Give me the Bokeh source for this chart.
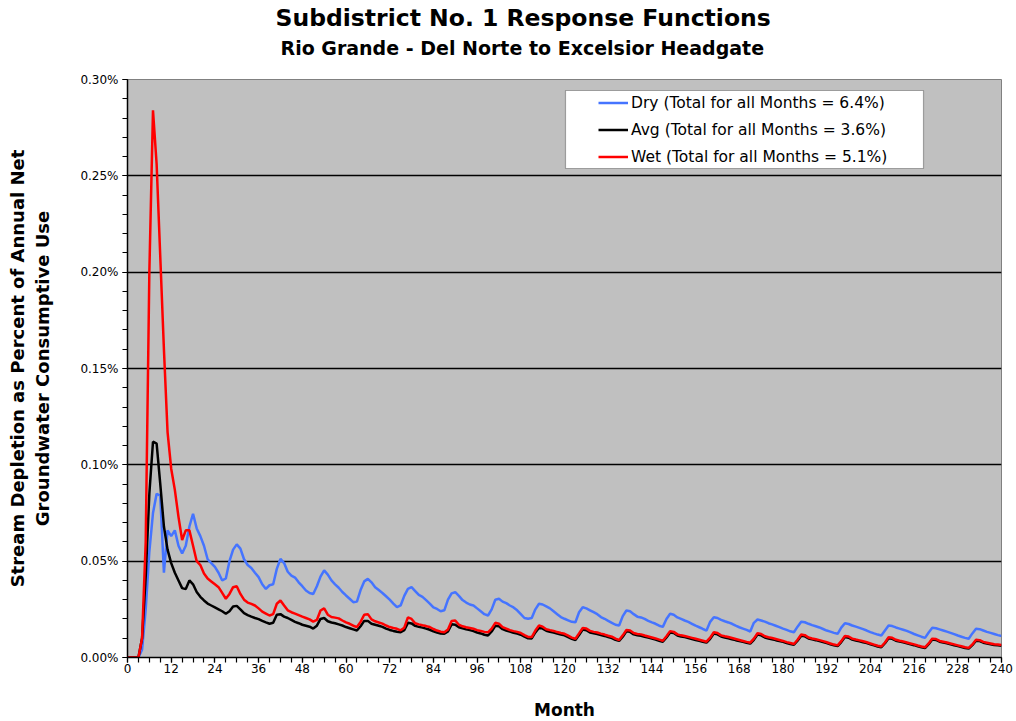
from bokeh.plotting import figure
from bokeh.models import (FixedTicker, PrintfTickFormatter, Legend, LegendItem,
                          Title, BoxAnnotation, Range1d)
from bokeh.embed import file_html
from bokeh.resources import INLINE

months = list(range(241))

dry = [
    0, 0, 0, 0, 0.004, 0.025, 0.055, 0.075, 0.085, 0.084, 0.044, 0.066,
    0.063, 0.066, 0.058, 0.054, 0.058, 0.068, 0.0746, 0.067, 0.063, 0.058, 0.051, 0.049,
    0.047, 0.044, 0.040, 0.041, 0.050, 0.056, 0.0587, 0.0565, 0.051, 0.048, 0.0465, 0.044,
    0.0417, 0.038, 0.0356, 0.0375, 0.038, 0.046, 0.0512, 0.049, 0.0445, 0.0425, 0.0415, 0.039,
    0.037, 0.0348, 0.0335, 0.033, 0.037, 0.042, 0.0452, 0.043, 0.040, 0.038, 0.0362, 0.034,
    0.0322, 0.0305, 0.0287, 0.029, 0.035, 0.0395, 0.0408, 0.039, 0.0365, 0.035, 0.0335, 0.0318,
    0.030, 0.028, 0.0261, 0.027, 0.032, 0.0356, 0.0365, 0.0345, 0.0325, 0.0315, 0.0298, 0.028,
    0.026, 0.0252, 0.024, 0.0245, 0.030, 0.0333, 0.0339, 0.032, 0.0298, 0.0285, 0.0275, 0.027,
    0.0255, 0.024, 0.0225, 0.0218, 0.025, 0.0300, 0.0305, 0.029, 0.0282, 0.027, 0.026, 0.0245,
    0.0225, 0.0205, 0.0201, 0.0205, 0.025, 0.0279, 0.0275, 0.0265, 0.0255, 0.024, 0.0225, 0.021,
    0.0201, 0.0193, 0.0185, 0.0183, 0.0235, 0.0261, 0.0255, 0.0245, 0.0235, 0.0225, 0.021, 0.0201,
    0.019, 0.018, 0.017, 0.0166, 0.0215, 0.0244, 0.0240, 0.0225, 0.0212, 0.0208, 0.0200, 0.019,
    0.0182, 0.0175, 0.0165, 0.0159, 0.020, 0.0227, 0.0222, 0.0208, 0.0200, 0.0192, 0.0185, 0.0175,
    0.0165, 0.0157, 0.0148, 0.0140, 0.0185, 0.0209, 0.0205, 0.0195, 0.0188, 0.0182, 0.0175, 0.0165,
    0.0157, 0.0150, 0.0143, 0.0135, 0.0180, 0.0197, 0.0192, 0.0186, 0.0178, 0.0172, 0.0165, 0.0158,
    0.0150, 0.0143, 0.0136, 0.0131, 0.0160, 0.0186, 0.0183, 0.0175, 0.0168, 0.0162, 0.0156, 0.0148,
    0.0140, 0.0134, 0.0128, 0.0123, 0.0155, 0.0178, 0.0174, 0.0166, 0.0160, 0.0154, 0.0147, 0.0140,
    0.0132, 0.0125, 0.0119, 0.0114, 0.0140, 0.0166, 0.0163, 0.0156, 0.0150, 0.0144, 0.0138, 0.0130,
    0.0122, 0.0115, 0.0108, 0.0102, 0.0130, 0.0154, 0.0152, 0.0146, 0.0140, 0.0134, 0.0128, 0.0121,
    0.0114, 0.0108, 0.0102, 0.0097, 0.0125, 0.0149, 0.0147, 0.0140, 0.0133, 0.0128, 0.0122, 0.0116,
    0.0112,
]

avg = [
    0, 0, 0, 0, 0.010, 0.042, 0.085, 0.112, 0.111, 0.090, 0.068, 0.056,
    0.049, 0.044, 0.040, 0.036, 0.0355, 0.040, 0.038, 0.034, 0.0315, 0.0296, 0.028, 0.027,
    0.026, 0.025, 0.024, 0.0227, 0.024, 0.0265, 0.0268, 0.025, 0.023, 0.022, 0.0212, 0.0205,
    0.0199, 0.0190, 0.0182, 0.0175, 0.0180, 0.0222, 0.0225, 0.0212, 0.0205, 0.0195, 0.0185, 0.0178,
    0.0170, 0.0165, 0.0160, 0.0150, 0.0165, 0.0200, 0.0205, 0.0188, 0.0182, 0.0178, 0.0172, 0.0166,
    0.0158, 0.0152, 0.0146, 0.0140, 0.0162, 0.0190, 0.0190, 0.0175, 0.0170, 0.0165, 0.0159, 0.0150,
    0.0143, 0.0138, 0.0134, 0.0131, 0.0142, 0.0180, 0.0177, 0.0164, 0.0159, 0.0155, 0.0150, 0.0144,
    0.0136, 0.0130, 0.0125, 0.0123, 0.0135, 0.0172, 0.0170, 0.0157, 0.0151, 0.0146, 0.0142, 0.0137,
    0.0130, 0.0125, 0.0118, 0.0114, 0.0135, 0.0165, 0.0162, 0.0147, 0.0140, 0.0134, 0.0128, 0.0124,
    0.0118, 0.0108, 0.0100, 0.0099, 0.0130, 0.0155, 0.0150, 0.0139, 0.0134, 0.0130, 0.0124, 0.0119,
    0.0115, 0.0106, 0.0097, 0.0091, 0.0117, 0.0145, 0.0142, 0.0130, 0.0126, 0.0122, 0.0117, 0.0112,
    0.0106, 0.0101, 0.0092, 0.0086, 0.0108, 0.0136, 0.0133, 0.0120, 0.0115, 0.0113, 0.0108, 0.0103,
    0.0098, 0.0093, 0.0087, 0.0082, 0.0104, 0.0130, 0.0127, 0.0114, 0.0109, 0.0106, 0.0101, 0.0096,
    0.0091, 0.0087, 0.0082, 0.0077, 0.0097, 0.0124, 0.0120, 0.0109, 0.0104, 0.0100, 0.0095, 0.0090,
    0.0086, 0.0081, 0.0076, 0.0072, 0.0092, 0.0119, 0.0115, 0.0104, 0.0099, 0.0095, 0.0090, 0.0086,
    0.0081, 0.0075, 0.0070, 0.0066, 0.0087, 0.0113, 0.0110, 0.0099, 0.0094, 0.0090, 0.0085, 0.0080,
    0.0075, 0.0069, 0.0063, 0.0059, 0.0080, 0.0106, 0.0103, 0.0093, 0.0088, 0.0084, 0.0079, 0.0075,
    0.0069, 0.0063, 0.0057, 0.0053, 0.0074, 0.0100, 0.0097, 0.0087, 0.0083, 0.0079, 0.0074, 0.0069,
    0.0064, 0.0058, 0.0053, 0.0049, 0.0069, 0.0093, 0.0091, 0.0082, 0.0078, 0.0074, 0.0069, 0.0064,
    0.0059, 0.0054, 0.0049, 0.0046, 0.0064, 0.0087, 0.0085, 0.0077, 0.0073, 0.0069, 0.0065, 0.0063,
    0.0061,
]

wet = [
    0, 0, 0, 0, 0.010, 0.060, 0.200, 0.284, 0.256, 0.208, 0.160, 0.117,
    0.098, 0.087, 0.073, 0.061, 0.066, 0.066, 0.058, 0.050, 0.048, 0.0436, 0.041, 0.0395,
    0.038, 0.0365, 0.0335, 0.0305, 0.033, 0.0365, 0.0370, 0.033, 0.030, 0.0285, 0.0278, 0.027,
    0.0255, 0.0238, 0.0228, 0.0218, 0.0225, 0.0279, 0.0296, 0.027, 0.0245, 0.0235, 0.0228, 0.0220,
    0.0212, 0.0205, 0.0198, 0.0186, 0.0195, 0.0244, 0.0255, 0.0222, 0.0210, 0.0207, 0.0203, 0.0192,
    0.0182, 0.0175, 0.0165, 0.0158, 0.0185, 0.0222, 0.0225, 0.0198, 0.0188, 0.0182, 0.0176, 0.0166,
    0.0158, 0.0153, 0.0149, 0.0141, 0.0155, 0.0208, 0.0200, 0.0178, 0.0172, 0.0167, 0.0163, 0.0158,
    0.0148, 0.0140, 0.0134, 0.0131, 0.0145, 0.0190, 0.0192, 0.0170, 0.0162, 0.0157, 0.0153, 0.0149,
    0.0142, 0.0138, 0.0133, 0.0131, 0.0150, 0.0180, 0.0175, 0.0158, 0.0150, 0.0142, 0.0137, 0.0133,
    0.0127, 0.0116, 0.0107, 0.0106, 0.0140, 0.0166, 0.0160, 0.0147, 0.0142, 0.0138, 0.0132, 0.0127,
    0.0123, 0.0113, 0.0103, 0.0097, 0.0125, 0.0153, 0.0150, 0.0138, 0.0133, 0.0130, 0.0124, 0.0119,
    0.0113, 0.0108, 0.0098, 0.0091, 0.0115, 0.0143, 0.0140, 0.0127, 0.0122, 0.0120, 0.0114, 0.0109,
    0.0104, 0.0099, 0.0093, 0.0087, 0.0110, 0.0137, 0.0133, 0.0120, 0.0115, 0.0112, 0.0107, 0.0102,
    0.0097, 0.0092, 0.0087, 0.0082, 0.0103, 0.0131, 0.0127, 0.0115, 0.0110, 0.0106, 0.0101, 0.0096,
    0.0091, 0.0086, 0.0081, 0.0077, 0.0098, 0.0126, 0.0122, 0.0110, 0.0105, 0.0101, 0.0096, 0.0091,
    0.0086, 0.0080, 0.0075, 0.0070, 0.0092, 0.0119, 0.0116, 0.0104, 0.0099, 0.0095, 0.0090, 0.0085,
    0.0079, 0.0073, 0.0067, 0.0063, 0.0085, 0.0112, 0.0109, 0.0098, 0.0093, 0.0089, 0.0084, 0.0079,
    0.0073, 0.0067, 0.0061, 0.0057, 0.0078, 0.0105, 0.0102, 0.0092, 0.0087, 0.0083, 0.0078, 0.0073,
    0.0068, 0.0062, 0.0057, 0.0053, 0.0073, 0.0098, 0.0096, 0.0086, 0.0082, 0.0078, 0.0073, 0.0068,
    0.0063, 0.0058, 0.0053, 0.0050, 0.0068, 0.0092, 0.0090, 0.0081, 0.0077, 0.0073, 0.0069, 0.0067,
    0.0065,
]

series_labels = [
    "Dry (Total for all Months = 6.4%)",
    "Avg (Total for all Months = 3.6%)",
    "Wet (Total for all Months = 5.1%)",
]
series_colors = ["#4574ff", "#000000", "#ff0000"]

x_major = list(range(0, 241, 12))
x_minor = list(range(0, 241, 3))
y_major = [0.0, 0.05, 0.10, 0.15, 0.20, 0.25, 0.30]
y_minor = [i / 100 for i in range(0, 31)]

title_text = "Subdistrict No. 1 Response Functions"
subtitle_text = "Rio Grande - Del Norte to Excelsior Headgate"
y_label = "Stream Depletion as Percent of Annual Net\nGroundwater Consumptive Use"
x_label = "Month"

FONT = "DejaVu Sans"

p = figure(frame_width=874, frame_height=578,
           min_border_left=127, min_border_right=15,
           min_border_top=79, min_border_bottom=64,
           output_backend="svg", toolbar_location=None,
           x_range=Range1d(0, 240), y_range=Range1d(0, 0.30))

p.background_fill_color = "#c0c0c0"
p.border_fill_color = "white"
p.outline_line_color = "#808080"
p.outline_line_width = 1

# axes
p.xaxis.ticker = FixedTicker(ticks=x_major, minor_ticks=x_minor)
p.yaxis.ticker = FixedTicker(ticks=y_major, minor_ticks=y_minor)
p.yaxis.formatter = PrintfTickFormatter(format="%.2f%%")
for ax in (p.xaxis, p.yaxis):
    ax.axis_line_color = "black"
    ax.axis_line_width = 1.5
    ax.major_tick_line_color = "black"
    ax.minor_tick_line_color = "black"
    ax.major_tick_line_width = 1.2
    ax.minor_tick_line_width = 1.2
    ax.major_tick_out = 5
    ax.major_tick_in = 0
    ax.minor_tick_out = 5
    ax.minor_tick_in = 0
    ax.major_label_text_font = FONT
    ax.major_label_text_font_size = "12px"
    ax.major_label_text_color = "black"
    ax.axis_label_text_font = FONT
    ax.axis_label_text_font_style = "bold"
    ax.axis_label_text_color = "black"
p.xaxis.axis_label = x_label
p.yaxis.axis_label = y_label
p.xaxis.axis_label_text_font_size = "17px"
p.yaxis.axis_label_text_font_size = "18px"
p.xaxis.major_label_standoff = 1
p.yaxis.major_label_standoff = 4
p.xaxis.axis_label_standoff = 24
p.yaxis.axis_label_standoff = 24

p.xgrid.visible = False
p.ygrid.ticker = FixedTicker(ticks=y_major)
p.ygrid.grid_line_color = "black"
p.ygrid.grid_line_width = 1.5

renderers = []
for vals, color in zip([dry, avg, wet], series_colors):
    r = p.line(months, vals, line_color=color, line_width=2.5)
    renderers.append(r)

# legend box
box = BoxAnnotation(left=438, right=796, top=567, bottom=489,
                    left_units="screen", right_units="screen",
                    top_units="screen", bottom_units="screen",
                    fill_color="white", fill_alpha=1.0,
                    line_color="black", line_width=1.2, level="overlay")
p.add_layout(box)

legend = Legend(items=[LegendItem(label=l, renderers=[r])
                       for l, r in zip(series_labels, renderers)],
                location=(471, 487), margin=0, padding=0, spacing=0,
                glyph_width=30, glyph_height=27, label_height=27,
                label_standoff=3, label_text_color="black",
                label_text_font=FONT, label_text_font_size="15.5px",
                background_fill_alpha=0, border_line_alpha=0)
p.add_layout(legend)

subtitle = Title(text=subtitle_text, align="left", offset=153, standoff=37,
                 vertical_align="top",
                 text_font=FONT, text_font_style="bold", text_font_size="19px",
                 text_color="black")
title = Title(text=title_text, align="left", offset=148, standoff=-26,
              vertical_align="bottom",
              text_font=FONT, text_font_style="bold", text_font_size="23.5px",
              text_color="black")
p.add_layout(subtitle, "above")
p.add_layout(title, "above")

open("out.html", "w").write(file_html(p, INLINE))
